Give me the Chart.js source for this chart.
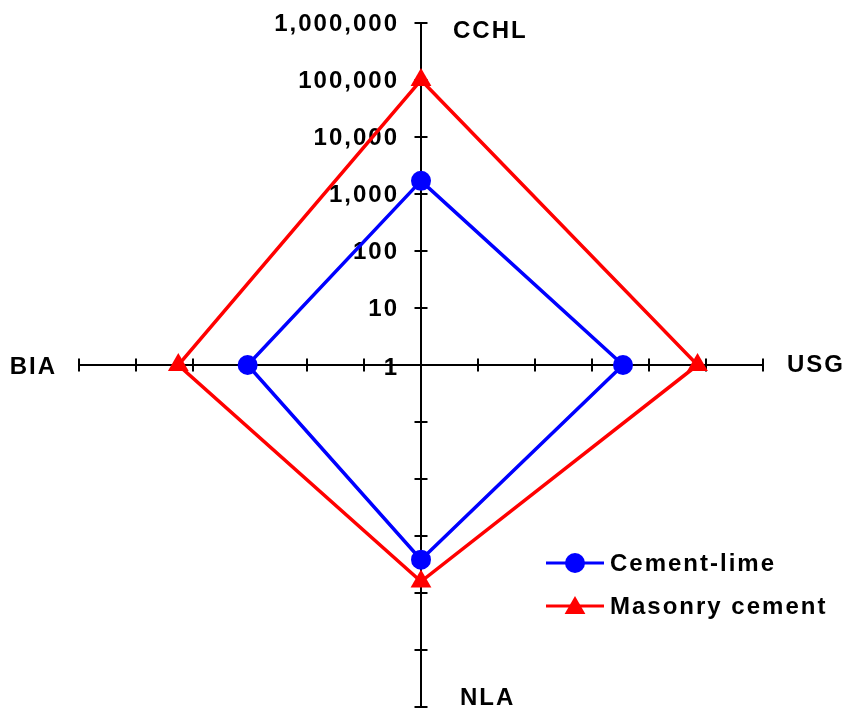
<!DOCTYPE html>
<html>
<head>
<meta charset="utf-8">
<script src="https://cdn.jsdelivr.net/npm/chart.js@4/dist/chart.umd.min.js"></script>
<style>
  html, body { margin: 0; padding: 0; background: #ffffff; }
  #wrap { width: 849px; height: 713px; }
</style>
</head>
<body>
<div id="wrap"><canvas id="c" width="849" height="713"></canvas></div>
<script>
// ---- data ----
const categories = ['CCHL', 'USG', 'NLA', 'BIA'];
const cementLime = [1700, 3500, 2600, 1100];
const masonryCement = [100000, 71000, 6300, 18100];
const tickValues = [1, 10, 100, 1000, 10000, 100000, 1000000];
const tickLabels = ['1', '10', '100', '1,000', '10,000', '100,000', '1,000,000'];
const seriesNames = ['Cement-lime', 'Masonry cement'];

// ---- a radial scale with logarithmic spacing ----
class RadialLogScale extends Chart.RadialLinearScale {
  getDistanceFromCenterForValue(value) {
    if (value === null || value === undefined || isNaN(value)) return NaN;
    const lmin = Math.log10(this.min), lmax = Math.log10(this.max);
    return this.drawingArea * (Math.log10(Math.max(value, this.min)) - lmin) / (lmax - lmin);
  }
  buildTicks() {
    return tickValues.map(v => ({ value: v }));
  }
}
RadialLogScale.id = 'radialLog';
Chart.register(RadialLogScale);

const FONT = 'bold 24px "Liberation Sans", Arial, sans-serif';
const SPACING = '2px';

const decoPlugin = {
  id: 'deco',
  beforeDatasetsDraw(chart) {
    const ctx = chart.ctx;
    const s = chart.scales.r;
    ctx.save();
    // tick marks across every axis
    ctx.strokeStyle = '#000';
    ctx.lineWidth = 2;
    const half = 6.5;
    for (let i = 0; i < categories.length; i++) {
      const a = s.getIndexAngle(i) - Math.PI / 2;
      const px = -Math.sin(a), py = Math.cos(a);
      tickValues.forEach(v => {
        if (v === s.min) return;
        const p = s.getPointPosition(i, s.getDistanceFromCenterForValue(v));
        ctx.beginPath();
        ctx.moveTo(p.x - px * half, p.y - py * half);
        ctx.lineTo(p.x + px * half, p.y + py * half);
        ctx.stroke();
      });
    }
    // tick labels along the top axis
    ctx.font = FONT;
    ctx.letterSpacing = SPACING;
    ctx.fillStyle = '#000';
    ctx.textAlign = 'right';
    ctx.textBaseline = 'middle';
    tickValues.forEach((v, k) => {
      const p = s.getPointPosition(0, s.getDistanceFromCenterForValue(v));
      const dy = k === 0 ? 3 : 1;
      ctx.fillText(tickLabels[k], p.x - 22, p.y + dy);
    });
    // category labels
    const offs = [
      { dx: 32, dy: 8, align: 'left' },
      { dx: 24, dy: 0, align: 'left' },
      { dx: 39, dy: -9, align: 'left' },
      { dx: -22, dy: 2, align: 'right' }
    ];
    categories.forEach((name, i) => {
      const p = s.getPointPosition(i, s.drawingArea);
      ctx.textAlign = offs[i].align;
      ctx.fillText(name, p.x + offs[i].dx, p.y + offs[i].dy);
    });
    ctx.restore();
  },
  afterDraw(chart) {
    const ctx = chart.ctx;
    ctx.save();
    const rows = [563, 606];
    chart.data.datasets.forEach((ds, i) => {
      const y = rows[i];
      ctx.strokeStyle = ds.borderColor;
      ctx.lineWidth = 3;
      ctx.beginPath();
      ctx.moveTo(546, y);
      ctx.lineTo(604, y);
      ctx.stroke();
      ctx.fillStyle = ds.backgroundColor;
      const r = ds.pointRadius;
      ctx.beginPath();
      if (ds.pointStyle === 'triangle') {
        const yc = y + 2;
        ctx.moveTo(575, yc - r);
        ctx.lineTo(575 + r * Math.sin(2 * Math.PI / 3), yc - r * Math.cos(2 * Math.PI / 3));
        ctx.lineTo(575 - r * Math.sin(2 * Math.PI / 3), yc - r * Math.cos(2 * Math.PI / 3));
        ctx.closePath();
      } else {
        ctx.arc(575, y, r, 0, Math.PI * 2);
      }
      ctx.fill();
      ctx.font = FONT;
      ctx.letterSpacing = SPACING;
      ctx.fillStyle = '#000';
      ctx.textAlign = 'left';
      ctx.textBaseline = 'middle';
      ctx.fillText(ds.label, 610, y + 1);
    });
    ctx.restore();
  }
};

new Chart(document.getElementById('c'), {
  type: 'radar',
  data: {
    labels: categories,
    datasets: [
      {
        label: seriesNames[0],
        data: cementLime,
        borderColor: '#0000ff',
        backgroundColor: '#0000ff',
        borderWidth: 3.5,
        fill: false,
        tension: 0,
        pointStyle: 'circle',
        pointRadius: 10,
        pointBorderWidth: 0,
        pointBackgroundColor: '#0000ff',
        pointBorderColor: '#0000ff'
      },
      {
        label: seriesNames[1],
        data: masonryCement,
        borderColor: '#ff0000',
        backgroundColor: '#ff0000',
        borderWidth: 3.5,
        fill: false,
        tension: 0,
        pointStyle: 'triangle',
        pointRadius: 12,
        pointBorderWidth: 0,
        pointBackgroundColor: '#ff0000',
        pointBorderColor: '#ff0000'
      }
    ]
  },
  options: {
    responsive: false,
    animation: false,
    devicePixelRatio: 1,
    layout: { padding: { left: 79, top: 23, right: 86, bottom: 6 } },
    plugins: {
      legend: { display: false },
      tooltip: { enabled: false }
    },
    scales: {
      r: {
        type: 'radialLog',
        min: 1,
        max: 1000000,
        beginAtZero: false,
        grid: { display: false },
        angleLines: { display: true, color: '#000', lineWidth: 2 },
        ticks: { display: false },
        pointLabels: { display: false }
      }
    }
  },
  plugins: [decoPlugin]
});
</script>
</body>
</html>
